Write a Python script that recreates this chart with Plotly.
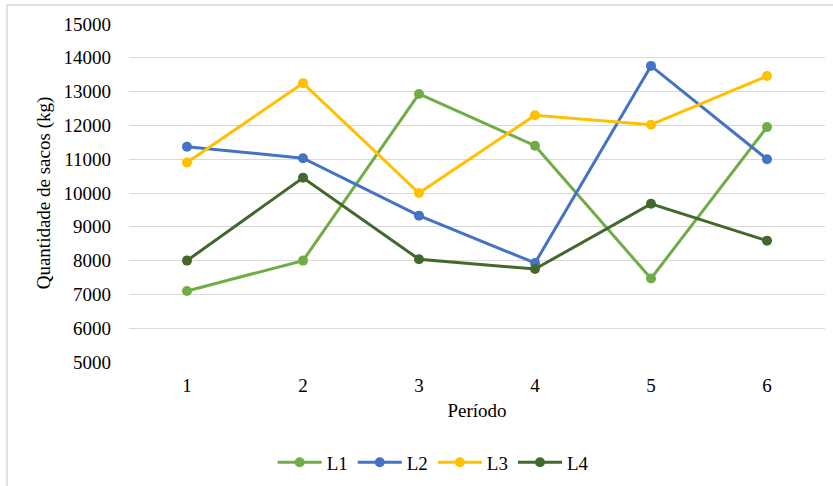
import plotly.graph_objects as go

# Período (x categories)
periodos = ["1", "2", "3", "4", "5", "6"]

# Quantidade de sacos (kg) por linha
l1 = [7100, 8000, 12930, 11400, 7470, 11950]
l2 = [11370, 11030, 9330, 7930, 13760, 11000]
l3 = [10900, 13250, 10000, 12300, 12020, 13460]
l4 = [8000, 10450, 8040, 7750, 9680, 8590]

y_ticks = [5000, 6000, 7000, 8000, 9000, 10000, 11000, 12000, 13000, 14000, 15000]

series = [
    ("L1", l1, "#70AD47"),
    ("L2", l2, "#4472C4"),
    ("L3", l3, "#FFC000"),
    ("L4", l4, "#43682B"),
]

FONT = "Liberation Serif"
FS = 19

fig = go.Figure()
for name, vals, color in series:
    fig.add_trace(go.Scatter(
        x=periodos, y=vals, name=name, mode="lines+markers",
        line=dict(color=color, width=3),
        marker=dict(color=color, size=10),
    ))

fig.update_layout(
    width=833, height=486,
    margin=dict(l=129, r=8, t=24, b=124, autoexpand=False),
    paper_bgcolor="white", plot_bgcolor="white",
    font=dict(family=FONT, size=FS, color="#000000"),
    showlegend=True,
    legend=dict(
        orientation="h", x=0.437, xanchor="center", y=-0.241, yanchor="top",
        font=dict(family=FONT, size=FS, color="#000000"),
        itemwidth=44, tracegroupgap=0,
    ),
    xaxis=dict(
        type="category", range=[-0.5, 5.5], showgrid=False, showline=False,
        zeroline=False, ticks="", ticklabelstandoff=10, automargin=False,
        tickfont=dict(family=FONT, size=FS),
        title=dict(text="Período", font=dict(family=FONT, size=FS), standoff=8),
    ),
    yaxis=dict(
        range=[5000, 15000], tickvals=y_ticks,
        ticktext=[str(v) for v in y_ticks], showgrid=True,
        gridcolor="#D9D9D9", gridwidth=1, zeroline=False, showline=False,
        ticks="", ticklabelstandoff=17, automargin=False,
        tickfont=dict(family=FONT, size=FS),
        title=dict(text="Quantidade de sacos (kg)", font=dict(family=FONT, size=FS), standoff=7),
    ),
    shapes=[dict(
        type="rect", xref="paper", yref="paper",
        x0=-0.1753, x1=1.03, y0=-0.4, y1=1.0562,
        line=dict(color="#D9D9D9", width=1.5), fillcolor="rgba(0,0,0,0)", layer="below",
    )],
)

fig.write_html("out.html")
